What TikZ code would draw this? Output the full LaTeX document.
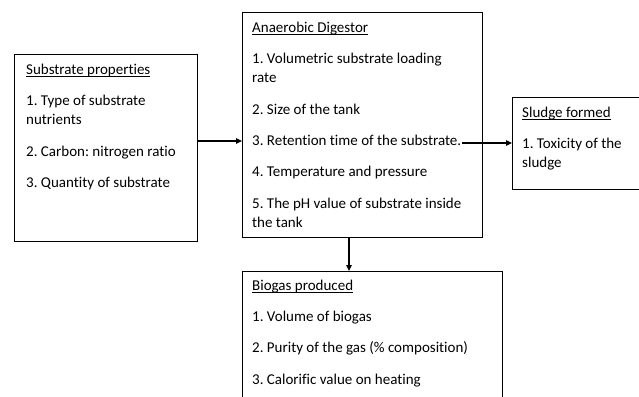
\documentclass[tikz,border=0pt]{standalone}
\usepackage{fontspec}
\setmainfont[Ligatures=NoCommon]{Carlito}
\usetikzlibrary{arrows.meta}
\frenchspacing
\newcommand\myul[1]{\setbox0\hbox{#1}\rlap{\rule[-2.4pt]{\wd0}{0.9pt}}\box0}
\newcommand\mystrut{\rule{0pt}{14pt}}
\begin{document}
\begin{tikzpicture}[x=1pt,y=-1pt,
  boxstyle/.style={draw=black,line width=1.2pt,rectangle,inner sep=0pt,anchor=north west},
  txt/.style={anchor=north west,inner sep=0pt,align=left,
    font=\fontsize{15pt}{19.3pt}\selectfont\frenchspacing},
  arr/.style={line width=1.1pt,-{Triangle[length=6pt,width=5.5pt]}}]
\path[use as bounding box,clip] (0,0) rectangle (639,396);
\node[boxstyle,minimum width=183pt,minimum height=187pt] (sub) at (14,54) {};
\node[boxstyle,minimum width=240pt,minimum height=225pt] (dig) at (242,12) {};
\node[boxstyle,minimum width=170pt,minimum height=92pt] (slu) at (512,97) {};
\node[boxstyle,minimum width=260pt,minimum height=160pt] (bio) at (242,271) {};
\node[txt] (subt) at ([shift={(12,6)}]sub.north west)
  {\mystrut\myul{Substrate properties}\\[12pt]
   1. Type of substrate\\ nutrients\\[12pt]
   2. Carbon: nitrogen ratio\\[12pt]
   3. Quantity of substrate};
\node[txt] (digt) at ([shift={(10,6)}]dig.north west)
  {\mystrut\myul{Anaerobic Digestor}\\[12pt]
   1. Volumetric substrate loading\\ rate\\[12pt]
   2. Size of the tank\\[12pt]
   3. Retention time of the substrate.\\[12pt]
   4. Temperature and pressure\\[12pt]
   5. The pH value of substrate inside\\ the tank};
\node[txt] (slut) at ([shift={(10,6)}]slu.north west)
  {\mystrut\myul{Sludge formed}\\[12pt]
   1. Toxicity of the\\ sludge};
\node[txt] (biot) at ([shift={(10,5)}]bio.north west)
  {\mystrut\myul{Biogas produced}\\[12pt]
   1. Volume of biogas\\[12pt]
   2. Purity of the gas (\% composition)\\[12pt]
   3. Calorific value on heating};
\coordinate (a1) at (197,141);
\draw[arr] (a1) -- (a1 -| dig.west);
\coordinate (a2) at (462,143);
\draw[arr] (a2) -- (a2 -| slu.west);
\coordinate (a3) at (349,237);
\draw[arr] (a3) -- (a3 |- bio.north);
\end{tikzpicture}
\end{document}
